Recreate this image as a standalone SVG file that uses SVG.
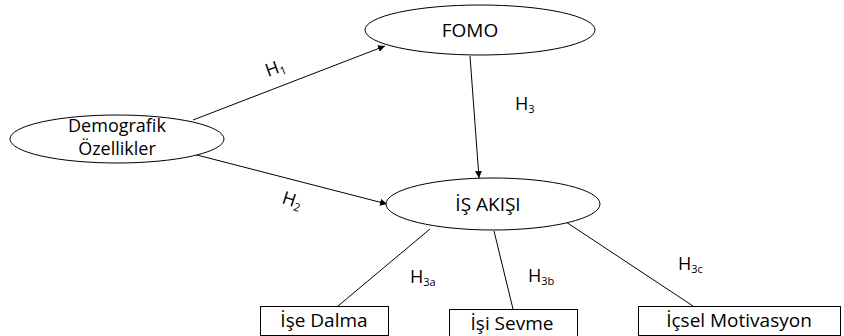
<svg xmlns="http://www.w3.org/2000/svg" width="844" height="336" viewBox="0 0 844 336">
<style>
.n{fill:#fff;stroke:#000;stroke-width:1}
.t{font-family:"Open Sans","Noto Sans",sans-serif;font-size:19px;fill:#000;text-anchor:middle}
.d{font-size:18px}
.l{font-family:"Open Sans","Noto Sans",sans-serif;font-size:18px;fill:#000}
.s{font-size:11px}
.c{stroke:#000;stroke-width:1;fill:none}
</style>
<defs>
<marker id="a" viewBox="0 0 10 10" refX="10" refY="5" markerWidth="7" markerHeight="7" orient="auto" markerUnits="userSpaceOnUse">
<path d="M0,0 L10,5 L0,10 z" fill="#000"/>
</marker>
</defs>
<rect width="844" height="336" fill="#fff"/>
<g id="connectors">
<line class="c" x1="193" y1="120" x2="385" y2="46" marker-end="url(#a)"/>
<line class="c" x1="193" y1="154" x2="387" y2="204" marker-end="url(#a)"/>
<line class="c" x1="470" y1="56" x2="479" y2="178" marker-end="url(#a)"/>
<line class="c" x1="430" y1="229" x2="338" y2="306"/>
<line class="c" x1="494" y1="231" x2="513" y2="309"/>
<line class="c" x1="566" y1="222" x2="693" y2="306"/>
<text class="l" transform="translate(268,77) rotate(-20)">H<tspan class="s" dy="3">1</tspan></text>
<text class="l" transform="translate(281,203) rotate(18)">H<tspan class="s" dy="3">2</tspan></text>
<text class="l" x="515" y="110">H<tspan class="s" dy="3">3</tspan></text>
<text class="l" x="410" y="283">H<tspan class="s" dy="3">3a</tspan></text>
<text class="l" x="528" y="282">H<tspan class="s" dy="3">3b</tspan></text>
<text class="l" x="678" y="270">H<tspan class="s" dy="3">3c</tspan></text>
</g>
<g id="demografik">
<ellipse class="n" cx="117" cy="139" rx="107" ry="24"/>
<text class="t d" x="117" y="132">Demografik</text>
<text class="t d" x="117" y="155">Özellikler</text>
</g>
<g id="fomo">
<ellipse class="n" cx="480" cy="30" rx="115" ry="25"/>
<text class="t" x="470" y="37">FOMO</text>
</g>
<g id="is-akisi">
<ellipse class="n" cx="493" cy="204" rx="107" ry="26"/>
<text class="t" x="488" y="211">İŞ AKIŞI</text>
</g>
<g id="ise-dalma">
<rect class="n" x="260.5" y="306.5" width="128" height="29"/>
<text class="t" x="324" y="327">İşe Dalma</text>
</g>
<g id="isi-sevme">
<rect class="n" x="449.5" y="309.5" width="128" height="27"/>
<text class="t" x="512" y="330">İşi Sevme</text>
</g>
<g id="icsel-motivasyon">
<rect class="n" x="638.5" y="306.5" width="202" height="29"/>
<text class="t" x="739" y="327">İçsel Motivasyon</text>
</g>
</svg>
